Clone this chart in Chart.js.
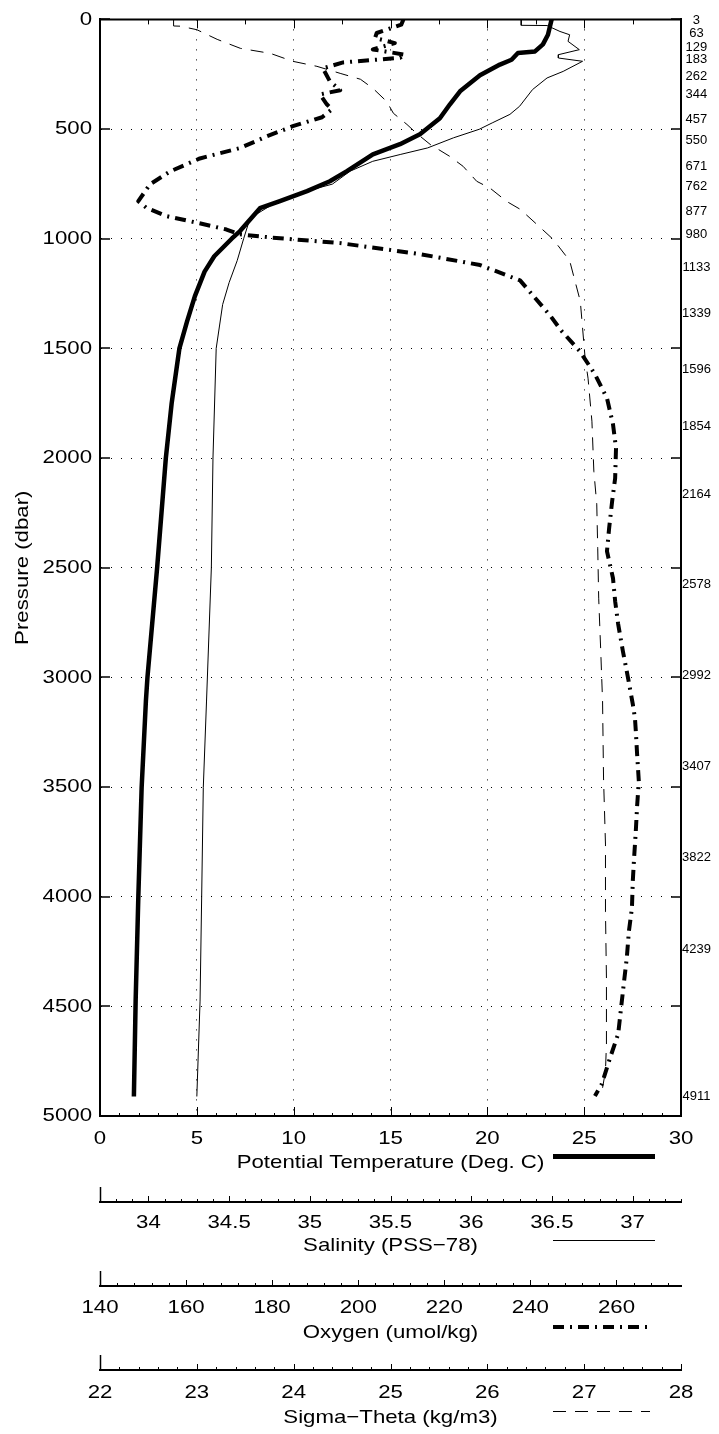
<!DOCTYPE html>
<html>
<head>
<meta charset="utf-8">
<script src="https://cdn.jsdelivr.net/npm/chart.js@4.4.1/dist/chart.umd.min.js"></script>
<style>
html,body{margin:0;padding:0;background:#fff;}
canvas{display:block;}
</style>
</head>
<body>
<canvas id="c" width="719" height="1434" style="width:719px;height:1434px"></canvas>
<script>
// ---------------- data ----------------
const tempP = [0, 70, 114, 146, 153, 184, 206, 255, 328, 387, 451, 524, 569, 615, 692, 738, 783, 829, 861, 965, 1000, 1080, 1150, 1262, 1376, 1500, 1750, 2000, 2500, 3000, 3108, 3503, 3997, 4476, 4911];
const tempV = [23.32, 23.13, 22.87, 22.46, 21.58, 21.25, 20.65, 19.62, 18.59, 18.07, 17.55, 16.52, 15.49, 14.09, 12.75, 11.87, 10.69, 9.29, 8.26, 7.23, 6.8, 5.9, 5.4, 4.9, 4.5, 4.1, 3.7, 3.4, 2.95, 2.45, 2.37, 2.15, 1.98, 1.84, 1.75];

const salP = [0, 27, 28, 55, 70, 100, 138, 161, 176, 191, 237, 267, 320, 396, 433, 472, 501, 540, 586, 616, 647, 692, 751, 783, 843, 906, 1000, 1100, 1200, 1300, 1500, 2000, 2500, 3108, 3503, 3997, 4476, 4911];
const salV = [36.31, 36.31, 36.47, 36.55, 36.61, 36.60, 36.67, 36.54, 36.54, 36.69, 36.57, 36.47, 36.38, 36.30, 36.24, 36.13, 36.05, 35.89, 35.73, 35.56, 35.39, 35.25, 35.14, 34.98, 34.77, 34.63, 34.59, 34.55, 34.50, 34.46, 34.42, 34.40, 34.39, 34.36, 34.34, 34.33, 34.32, 34.30];

const oxyP = [0, 24, 62, 85, 108, 137, 161, 175, 196, 223, 282, 323, 342, 387, 410, 446, 487, 533, 587, 634, 693, 752, 829, 859, 897, 927, 958, 980, 995, 1020, 1070, 1120, 1190, 1270, 1350, 1422, 1513, 1618, 1727, 1846, 1955, 2092, 2197, 2320, 2425, 2548, 2653, 2757, 2881, 3003, 3122, 3186, 3245, 3350, 3473, 3587, 3701, 3824, 3929, 4052, 4157, 4280, 4398, 4521, 4626, 4736, 4854, 4909];
const oxyV = [210.5, 210.0, 204.3, 203.9, 208.5, 203.4, 210.9, 209.7, 196.5, 191.8, 193.4, 195.8, 191.1, 192.7, 193.9, 191.6, 184.8, 178.8, 172.5, 163.2, 156.3, 151.6, 148.9, 150.8, 155.5, 162.5, 169.4, 172.5, 180.0, 195.8, 214.3, 228.3, 237.6, 241.1, 244.6, 247.3, 251.5, 255.0, 257.8, 259.2, 259.9, 259.7, 259.0, 258.3, 257.8, 259.2, 259.7, 260.4, 261.5, 262.7, 263.8, 264.3, 264.5, 264.8, 265.2, 264.8, 264.5, 264.1, 263.8, 263.6, 262.9, 262.4, 261.7, 261.0, 260.4, 258.5, 256.6, 255.0];

const sigP = [0, 30, 31, 47, 91, 132, 155, 191, 214, 246, 273, 315, 374, 428, 479, 520, 570, 624, 670, 738, 770, 830, 866, 934, 1003, 1100, 1285, 1545, 1636, 1832, 2060, 2210, 2411, 2639, 2867, 3108, 3459, 3760, 4066, 4371, 4672, 4795, 4872];
const sigV = [22.76, 22.76, 22.83, 23.00, 23.21, 23.45, 23.76, 23.99, 24.24, 24.48, 24.69, 24.82, 24.96, 25.03, 25.17, 25.27, 25.41, 25.61, 25.75, 25.89, 26.03, 26.20, 26.34, 26.51, 26.68, 26.85, 26.96, 27.01, 27.04, 27.08, 27.10, 27.13, 27.14, 27.15, 27.17, 27.19, 27.20, 27.22, 27.22, 27.23, 27.23, 27.22, 27.19];

// tick labels
const pressureTicks = [0, 500, 1000, 1500, 2000, 2500, 3000, 3500, 4000, 4500, 5000];
const bottleTicks = [3, 63, 129, 183, 262, 344, 457, 550, 671, 762, 877, 980, 1133, 1339, 1596, 1854, 2164, 2578, 2992, 3407, 3822, 4239, 4911];
const tempTicks = [0, 5, 10, 15, 20, 25, 30];
const salTicks = [34, 34.5, 35, 35.5, 36, 36.5, 37];
const oxyTicks = [140, 160, 180, 200, 220, 240, 260];
const sigTicks = [22, 23, 24, 25, 26, 27, 28];

// axis ranges
const tempRange = [0, 30];
const salRange = [33.7, 37.3];
const oxyRange = [140, 275];
const sigRange = [22, 28];
const presRange = [0, 5000];

// ---------------- helpers ----------------
const toXY = (ps, vs) => ps.map((p, i) => ({x: vs[i], y: p}));
const fixTicks = arr => s => { s.ticks = arr.map(v => ({value: v})); };
const FONT = "'Liberation Sans', Arial, Helvetica, sans-serif";
Chart.defaults.font.family = FONT;
Chart.defaults.color = '#000';

const canvas = document.getElementById('c');
const ctx2d = canvas.getContext('2d');
// The reference's large text uses a wide Helvetica; widen large glyphs along the text direction
const TEXT_STRETCH = 1.17;
const rawFillText = ctx2d.fillText;
ctx2d.fillText = function (text, x, y) {
  const m = this.font.match(/(\d+(?:\.\d+)?)px/);
  const size = m ? parseFloat(m[1]) : 12;
  if (size < 16) return rawFillText.call(this, text, x, y);
  this.save();
  this.translate(x, y);
  this.scale(TEXT_STRETCH, 1);
  rawFillText.call(this, text, 0, 0);
  this.restore();
};

const line = (c, x1, y1, x2, y2) => { c.beginPath(); c.moveTo(x1, y1); c.lineTo(x2, y2); c.stroke(); };

function auxTicks(c, s, step, major) {
  const y = Math.round(s.top);
  const n0 = Math.ceil(s.min / step - 1e-6), n1 = Math.floor(s.max / step + 1e-6);
  for (let n = n0; n <= n1; n++) {
    const v = n * step;
    const r = v / major;
    const isMaj = Math.abs(r - Math.round(r)) < 1e-6;
    const px = Math.round(s.getPixelForValue(v)) + 0.5;
    line(c, px, y, px, y - (isMaj ? 6 : 3));
  }
  const lx = Math.round(s.left) + 0.5;
  c.save(); c.lineWidth = 1.5; line(c, lx, y, lx, y - 15); c.restore();
}

const framePlugin = {
  id: 'frame',
  afterDraw(chart) {
    const c = chart.ctx, a = chart.chartArea, S = chart.scales;
    c.save();
    c.strokeStyle = '#000';
    c.lineWidth = 2;
    line(c, a.left - 1, a.top, a.right + 1, a.top);
    c.lineWidth = 1;
    // bottom inward ticks, every 1 deg
    for (let v = 0; v <= 30; v++) {
      const px = Math.round(S.x.getPixelForValue(v)) + 0.5;
      line(c, px, a.bottom, px, a.bottom - (v % 5 === 0 ? 9 : 3));
    }
    // top inward ticks, every 2.5 deg
    for (let n = 0; n <= 12; n++) {
      const px = Math.round(S.x.getPixelForValue(n * 2.5)) + 0.5;
      line(c, px, a.top, px, a.top + (n % 2 === 0 ? 9 : 5));
    }
    // left / right inward ticks
    c.lineWidth = 1.5;
    for (const p of pressureTicks) {
      const py = Math.round(S.y.getPixelForValue(p));
      line(c, a.left, py, a.left + 10, py);
      line(c, a.right, py, a.right - 10, py);
    }
    c.lineWidth = 1;
    auxTicks(c, S.xSal, 0.1, 0.5);
    auxTicks(c, S.xOxy, 4, 20);
    auxTicks(c, S.xSig, 0.2, 1);
    // legend samples
    const lx1 = 553, lx2 = 655;
    c.lineCap = 'butt';
    c.lineWidth = 5; c.setLineDash([]);
    line(c, lx1, S.x.bottom - 45.5, lx2, S.x.bottom - 45.5);
    c.lineWidth = 1;
    line(c, lx1, S.xSal.bottom - 45.5, lx2, S.xSal.bottom - 45.5);
    c.lineWidth = 4; c.setLineDash([11, 6, 2, 6]);
    line(c, lx1, S.xOxy.bottom - 43, 652, S.xOxy.bottom - 43);
    c.lineWidth = 1; c.setLineDash([13, 9]);
    line(c, lx1, S.xSig.bottom - 22.5, 650, S.xSig.bottom - 22.5);
    c.restore();
  }
};

const lbl = v => String(v);
const auxAxis = (range, ticks, title, weight, height, pad, tpad) => ({
  type: 'linear', position: 'bottom', min: range[0], max: range[1], weight,
  afterBuildTicks: fixTicks(ticks),
  afterFit: s => { s.height = height; },
  ticks: {callback: lbl, padding: pad, maxRotation: 0, autoSkip: false, font: {size: 19}, color: '#000'},
  grid: {display: true, drawOnChartArea: false, drawTicks: false},
  border: {display: true, color: '#000', width: 2},
  title: {display: true, text: title, font: {size: 19}, color: '#000', padding: {top: 0, bottom: tpad}}
});

const cfg = {
  type: 'scatter',
  data: {
    datasets: [
      {label: 'Potential Temperature (Deg. C)', data: toXY(tempP, tempV), xAxisID: 'x', yAxisID: 'y',
       showLine: true, borderColor: '#000', borderWidth: 4.5, pointRadius: 0, pointHoverRadius: 0, tension: 0,
       borderJoinStyle: 'round', borderCapStyle: 'butt'},
      {label: 'Oxygen (umol/kg)', data: toXY(oxyP, oxyV), xAxisID: 'xOxy', yAxisID: 'y',
       showLine: true, borderColor: '#000', borderWidth: 4, borderDash: [11, 6, 2, 6], pointRadius: 0, pointHoverRadius: 0, tension: 0,
       borderJoinStyle: 'round', borderCapStyle: 'butt'},
      {label: 'Salinity (PSS-78)', data: toXY(salP, salV), xAxisID: 'xSal', yAxisID: 'y',
       showLine: true, borderColor: '#000', borderWidth: 1, pointRadius: 0, pointHoverRadius: 0, tension: 0},
      {label: 'Sigma-Theta (kg/m3)', data: toXY(sigP, sigV), xAxisID: 'xSig', yAxisID: 'y',
       showLine: true, borderColor: '#000', borderWidth: 1, borderDash: [13, 9], pointRadius: 0, pointHoverRadius: 0, tension: 0}
    ]
  },
  options: {
    responsive: false, animation: false, devicePixelRatio: 1,
    layout: {padding: {top: 18, left: 0, right: 0, bottom: 0}},
    plugins: {legend: {display: false}, tooltip: {enabled: false}},
    scales: {
      y: {
        type: 'linear', position: 'left', reverse: true, min: presRange[0], max: presRange[1],
        afterBuildTicks: fixTicks(pressureTicks),
        afterFit: s => { s.width = 100; },
        ticks: {callback: lbl, padding: 8, autoSkip: false, font: {size: 19}, color: '#000'},
        grid: {color: '#000', lineWidth: 1, drawTicks: false},
        border: {display: true, color: '#000', width: 2, dash: [1, 9]},
        title: {display: true, text: 'Pressure (dbar)', font: {size: 19}, color: '#000', padding: {top: 11, bottom: 0}}
      },
      yR: {
        type: 'linear', position: 'right', reverse: true, min: presRange[0], max: presRange[1],
        afterBuildTicks: fixTicks(bottleTicks),
        afterFit: s => { s.width = 38; },
        ticks: {callback: lbl, padding: 1, crossAlign: 'center', autoSkip: false, font: {size: 13}, color: '#000'},
        grid: {display: true, drawOnChartArea: false, drawTicks: false},
        border: {display: true, color: '#000', width: 2}
      },
      x: {
        type: 'linear', position: 'bottom', min: tempRange[0], max: tempRange[1], weight: 0,
        afterBuildTicks: fixTicks(tempTicks),
        afterFit: s => { s.height = 86; },
        ticks: {callback: lbl, padding: 11, maxRotation: 0, autoSkip: false, font: {size: 19}, color: '#000'},
        grid: {color: '#000', lineWidth: 1, drawTicks: false},
        border: {display: true, color: '#000', width: 2, dash: [1, 9]},
        title: {display: true, text: 'Potential Temperature (Deg. C)', font: {size: 19}, color: '#000', padding: {top: 0, bottom: 28}}
      },
      xSal: auxAxis(salRange, salTicks, 'Salinity (PSS\u221278)', 1, 84, 9, 29),
      xOxy: auxAxis(oxyRange, oxyTicks, 'Oxygen (umol/kg)', 2, 84, 10, 26),
      xSig: auxAxis(sigRange, sigTicks, 'Sigma\u2212Theta (kg/m3)', 3, 64, 11, 5)
    }
  },
  plugins: [framePlugin]
};

new Chart(ctx2d, cfg);
</script>
</body>
</html>
